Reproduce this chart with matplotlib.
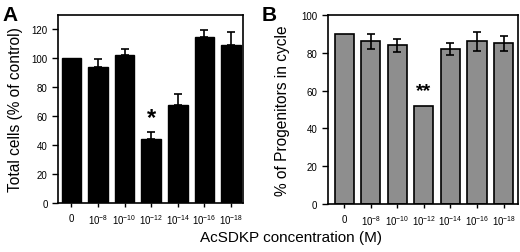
import matplotlib
matplotlib.use("Agg")
import matplotlib.pyplot as plt
import numpy as np

plt.rcParams["font.family"] = ["Liberation Sans", "DejaVu Sans"]
plt.rcParams["mathtext.fontset"] = "custom"
plt.rcParams["mathtext.rm"] = "Liberation Sans"
plt.rcParams["mathtext.it"] = "Liberation Sans"

concentrations = ["0", "10$^{-8}$", "10$^{-10}$", "10$^{-12}$", "10$^{-14}$", "10$^{-16}$", "10$^{-18}$"]
total_cells = [100, 94, 102, 44, 68, 114.5, 109]
total_cells_err = [0, 5.3, 4.6, 5.3, 7.2, 5.3, 9]
progenitors = [90, 86, 84, 52, 82, 86, 85]
progenitors_err = [0, 3.8, 3.5, 0, 3, 5, 4]

fig = plt.figure(figsize=(5.2, 2.53), dpi=100)
ax_a = fig.add_axes([0.1115, 0.194, 0.356, 0.743])
ax_b = fig.add_axes([0.630, 0.190, 0.367, 0.747])

x = np.arange(len(concentrations))

# panel A
ax_a.bar(x, total_cells, width=0.73, color="black", edgecolor="black")
ax_a.errorbar(x[1:], total_cells[1:], yerr=[np.zeros(6), total_cells_err[1:]],
              fmt="none", ecolor="black", elinewidth=1.2, capsize=3, capthick=1.2)
ax_a.text(3, 59, "*", ha="center", va="center", fontsize=17, fontweight="bold")
ax_a.set_ylim(0, 130)
ax_a.set_xlim(-0.5, 6.45)
ax_a.set_yticks([0, 20, 40, 60, 80, 100, 120])
ax_a.set_ylabel("Total cells (% of control)", fontsize=11.2, labelpad=6)

# panel B
ax_b.bar(x, progenitors, width=0.72, color="#8e8e8e", edgecolor="black", linewidth=1.2)
mask = np.array(progenitors_err) > 0
ax_b.errorbar(x[mask], np.array(progenitors)[mask], yerr=np.array(progenitors_err)[mask],
              fmt="none", ecolor="black", elinewidth=1.2, capsize=3, capthick=1.2)
ax_b.text(3, 60, "**", ha="center", va="center", fontsize=14, fontweight="bold")
ax_b.set_ylim(0, 100)
ax_b.set_xlim(-0.62, 6.56)
ax_b.set_yticks([0, 20, 40, 60, 80, 100])
ax_b.set_ylabel("% of Progenitors in cycle", fontsize=11.2, labelpad=8)

for ax in (ax_a, ax_b):
    ax.set_xticks(x)
    ax.set_xticklabels(concentrations, fontsize=7)
    ax.tick_params(axis="y", labelsize=7, length=4, width=1)
    ax.tick_params(axis="x", length=3, width=1, pad=4)
    for s in ax.spines.values():
        s.set_linewidth(1.2)

fig.text(0.005, 0.975, "A", fontsize=15, fontweight="bold", va="top")
fig.text(0.503, 0.975, "B", fontsize=15, fontweight="bold", va="top")
fig.text(0.56, 0.06, "AcSDKP concentration (M)", fontsize=11, ha="center", va="center")

fig.savefig("out.png", dpi=100)
